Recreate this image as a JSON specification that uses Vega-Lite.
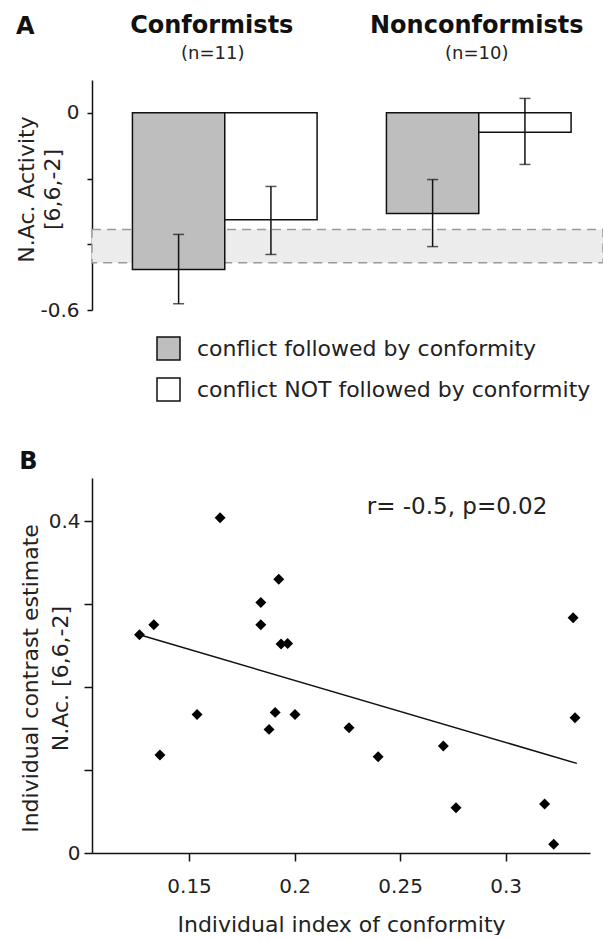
{
  "$schema": "https://vega.github.io/schema/vega-lite/v6.json",
  "background": "white",
  "padding": {"left": 15, "top": 13, "right": 0, "bottom": 0},
  "spacing": 45,
  "config": {
    "font": "DejaVu Sans",
    "view": {"stroke": null},
    "axis": {
      "grid": false,
      "ticks": true,
      "domainColor": "#111",
      "tickColor": "#111",
      "tickOpacity": 1,
      "domainWidth": 1.5,
      "tickWidth": 1.5,
      "labelColor": "#222",
      "titleColor": "#222",
      "labelFont": "DejaVu Sans",
      "titleFont": "DejaVu Sans",
      "titleFontWeight": "normal"
    },
    "title": {"font": "DejaVu Sans", "fontWeight": "bold", "fontSize": 24, "color": "#111", "anchor": "start", "frame": "bounds"}
  },
  "datasets": {
    "bars": [
      {"group": "Conformists", "cond": "conflict followed by conformity", "value": -0.477, "lo": -0.581, "hi": -0.370},
      {"group": "Conformists", "cond": "conflict NOT followed by conformity", "value": -0.325, "lo": -0.431, "hi": -0.224},
      {"group": "Nonconformists", "cond": "conflict followed by conformity", "value": -0.306, "lo": -0.407, "hi": -0.203},
      {"group": "Nonconformists", "cond": "conflict NOT followed by conformity", "value": -0.059, "lo": -0.157, "hi": 0.044}
    ],
    "band": [{"lo": -0.355, "hi": -0.456}],
    "headers": [
      {"group": "Conformists", "name": "Conformists", "n": "(n=11)"},
      {"group": "Nonconformists", "name": "Nonconformists", "n": "(n=10)"}
    ],
    "points": [
      {"x": 0.1647, "y": 0.404},
      {"x": 0.1925, "y": 0.330},
      {"x": 0.184, "y": 0.302},
      {"x": 0.1333, "y": 0.275},
      {"x": 0.184, "y": 0.275},
      {"x": 0.1265, "y": 0.263},
      {"x": 0.1936, "y": 0.252},
      {"x": 0.1967, "y": 0.2525},
      {"x": 0.332, "y": 0.2835},
      {"x": 0.1538, "y": 0.167},
      {"x": 0.1908, "y": 0.1695},
      {"x": 0.2002, "y": 0.167},
      {"x": 0.1879, "y": 0.149},
      {"x": 0.2258, "y": 0.151},
      {"x": 0.1362, "y": 0.118},
      {"x": 0.2396, "y": 0.116},
      {"x": 0.2705, "y": 0.129},
      {"x": 0.2765, "y": 0.0546},
      {"x": 0.3185, "y": 0.059},
      {"x": 0.3228, "y": 0.0105},
      {"x": 0.3329, "y": 0.163}
    ],
    "fit": [
      {"x": 0.1265, "y": 0.263},
      {"x": 0.3338, "y": 0.108}
    ],
    "note": [{"x": 0.277, "y": 0.417, "label": "r= -0.5, p=0.02"}]
  },
  "resolve": {"scale": {"color": "independent"}, "legend": {"color": "independent"}},
  "vconcat": [
    {
      "width": 511,
      "height": 230,
      "title": {"text": "A", "dy": 29},
      "layer": [
        {
          "data": {"name": "band"},
          "mark": {"type": "rect", "fill": "#ececec", "stroke": "#9a9a9a", "strokeWidth": 1.5, "strokeDash": [9, 6]},
          "encoding": {
            "y": {"field": "lo", "type": "quantitative", "scale": {"domain": [-0.6, 0.1], "nice": false, "zero": false},
              "axis": {
                "values": [-0.6, -0.5, -0.4, -0.3, -0.2, -0.1, 0, 0.1],
                "labelExpr": "abs(datum.value) < 1e-9 ? '0' : (abs(datum.value + 0.6) < 1e-9 ? '-0.6' : '')",
                "tickSize": 5,
                "labelFontSize": 20,
                "labelPadding": 8,
                "title": ["N.Ac. Activity", "[6,6,-2]"],
                "titleFontSize": 22,
                "titleLineHeight": 26,
                "titlePadding": -25,
                "titleY": 109
              }
            },
            "y2": {"field": "hi"}
          }
        },
        {
          "data": {"name": "bars"},
          "mark": {"type": "bar", "stroke": "#111", "strokeWidth": 1.5},
          "encoding": {
            "x": {"field": "group", "type": "nominal", "sort": null, "axis": null,
              "scale": {"paddingInner": 0.273, "paddingOuter": 0.1424, "align": 0.559}},
            "xOffset": {"field": "cond", "type": "nominal", "sort": null, "scale": {"paddingInner": 0, "paddingOuter": 0}},
            "y": {"field": "value", "type": "quantitative"},
            "color": {"field": "cond", "type": "nominal", "sort": null,
              "scale": {"domain": ["conflict followed by conformity", "conflict NOT followed by conformity"], "range": ["#bebebe", "#ffffff"]},
              "legend": {
                "orient": "none", "legendX": 64, "legendY": 256, "title": null, "direction": "vertical",
                "symbolType": "square", "symbolSize": 530, "symbolStrokeColor": "#111", "symbolStrokeWidth": 1.5,
                "symbolOpacity": 1,
                "labelFontSize": 22, "labelFont": "DejaVu Sans", "labelColor": "#222", "labelLimit": 0,
                "rowPadding": 10, "labelOffset": 16, "padding": 0
              }
            }
          }
        },
        {
          "mark": {"type": "rule", "color": "#111", "strokeWidth": 1.5},
          "encoding": {"y": {"datum": 0}}
        },
        {
          "data": {"name": "bars"},
          "mark": {"type": "rule", "color": "#111", "strokeWidth": 1.5},
          "encoding": {
            "x": {"field": "group", "type": "nominal", "sort": null},
            "xOffset": {"field": "cond", "type": "nominal", "sort": null},
            "y": {"field": "lo", "type": "quantitative"},
            "y2": {"field": "hi"}
          }
        },
        {
          "data": {"name": "bars"},
          "mark": {"type": "tick", "color": "#111", "size": 11, "thickness": 1.5},
          "encoding": {
            "x": {"field": "group", "type": "nominal", "sort": null},
            "xOffset": {"field": "cond", "type": "nominal", "sort": null},
            "y": {"field": "lo", "type": "quantitative"}
          }
        },
        {
          "data": {"name": "bars"},
          "mark": {"type": "tick", "color": "#111", "size": 11, "thickness": 1.5},
          "encoding": {
            "x": {"field": "group", "type": "nominal", "sort": null},
            "xOffset": {"field": "cond", "type": "nominal", "sort": null},
            "y": {"field": "hi", "type": "quantitative"}
          }
        },
        {
          "data": {"name": "headers"},
          "transform": [{"filter": "datum.group == 'Conformists'"}],
          "mark": {"type": "text", "fontSize": 24, "fontWeight": "bold", "color": "#111", "baseline": "middle", "clip": false, "dx": -13},
          "encoding": {
            "x": {"field": "group", "type": "nominal", "sort": null},
            "y": {"datum": 0.265},
            "text": {"field": "name"}
          }
        },
        {
          "data": {"name": "headers"},
          "transform": [{"filter": "datum.group == 'Conformists'"}],
          "mark": {"type": "text", "fontSize": 18, "color": "#222", "baseline": "middle", "clip": false, "dx": -12},
          "encoding": {
            "x": {"field": "group", "type": "nominal", "sort": null},
            "y": {"datum": 0.179},
            "text": {"field": "n"}
          }
        },
        {
          "data": {"name": "headers"},
          "transform": [{"filter": "datum.group == 'Nonconformists'"}],
          "mark": {"type": "text", "fontSize": 24, "fontWeight": "bold", "color": "#111", "baseline": "middle", "clip": false, "dx": -2},
          "encoding": {
            "x": {"field": "group", "type": "nominal", "sort": null},
            "y": {"datum": 0.265},
            "text": {"field": "name"}
          }
        },
        {
          "data": {"name": "headers"},
          "transform": [{"filter": "datum.group == 'Nonconformists'"}],
          "mark": {"type": "text", "fontSize": 18, "color": "#222", "baseline": "middle", "clip": false, "dx": -2},
          "encoding": {
            "x": {"field": "group", "type": "nominal", "sort": null},
            "y": {"datum": 0.179},
            "text": {"field": "n"}
          }
        }
      ]
    },
    {
      "width": 498,
      "height": 375,
      "title": {"text": "B"},
      "layer": [
        {
          "data": {"name": "points"},
          "mark": {"type": "point", "shape": "diamond", "filled": true, "size": 120, "color": "#000", "opacity": 1},
          "encoding": {
            "x": {"field": "x", "type": "quantitative", "scale": {"domain": [0.104, 0.34], "nice": false, "zero": false},
              "axis": {
                "values": [0.15, 0.2, 0.25, 0.3], "format": ".2~f", "tickSize": 8, "labelFontSize": 20, "labelPadding": 15,
                "title": "Individual index of conformity", "titleFontSize": 22, "titlePadding": 18
              }
            },
            "y": {"field": "y", "type": "quantitative", "scale": {"domain": [0, 0.452], "nice": false, "zero": false},
              "axis": {
                "values": [0, 0.1, 0.2, 0.3, 0.4],
                "labelExpr": "abs(datum.value) < 1e-9 ? '0' : (abs(datum.value - 0.4) < 1e-9 ? '0.4' : '')",
                "tickSize": 8, "labelFontSize": 20, "labelPadding": 4,
                "title": ["Individual contrast estimate", "N.Ac. [6,6,-2]"],
                "titleFontSize": 22, "titleLineHeight": 30, "titlePadding": -24,
                "titleY": 200
              }
            }
          }
        },
        {
          "data": {"name": "fit"},
          "mark": {"type": "line", "color": "#111", "strokeWidth": 1.5},
          "encoding": {
            "x": {"field": "x", "type": "quantitative"},
            "y": {"field": "y", "type": "quantitative"}
          }
        },
        {
          "data": {"name": "note"},
          "mark": {"type": "text", "fontSize": 23, "color": "#222", "baseline": "middle"},
          "encoding": {
            "x": {"field": "x", "type": "quantitative"},
            "y": {"field": "y", "type": "quantitative"},
            "text": {"field": "label"}
          }
        }
      ]
    }
  ]
}
